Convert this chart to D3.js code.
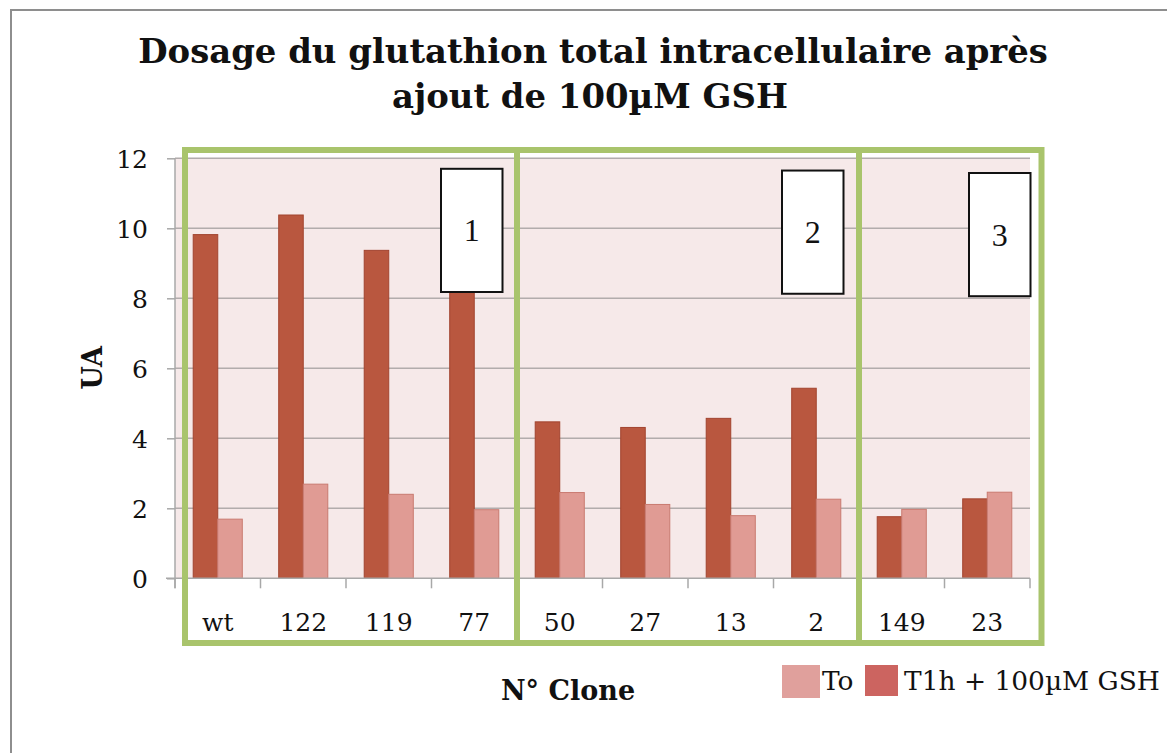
<!DOCTYPE html>
<html>
<head>
<meta charset="utf-8">
<script src="https://cdn.jsdelivr.net/npm/d3@7"></script>
<style>
  html, body { margin: 0; padding: 0; background: #ffffff; }
  svg { display: block; }
</style>
</head>
<body>
<svg id="chart" width="1167" height="753"></svg>
<script>
// Clone identifiers along the x axis
const clones = ["wt", "122", "119", "77", "50", "27", "13", "2", "149", "23"];

// Intracellular total glutathione (UA)
const t1hValues = [9.82, 10.38, 9.37, 8.6, 4.47, 4.31, 4.57, 5.43, 1.76, 2.27];
const t0Values  = [1.69, 2.69, 2.40, 1.96, 2.45, 2.11, 1.79, 2.26, 1.97, 2.46];

const seriesNames = ["T1h + 100µM GSH", "To"];
const legendOrder = ["To", "T1h + 100µM GSH"];

const yTicks = [0, 2, 4, 6, 8, 10, 12];

// Clone groups outlined in green, with their numbered tags
const groupFirst = ["wt", "50", "149"];
const groupLast  = ["77", "2", "23"];
const groupLabels = ["1", "2", "3"];
const tagClone = ["77", "2", "23"];
const tagTop = [11.7, 11.65, 11.58];
const tagBottom = [8.18, 8.13, 8.06];

const titleLines = ["Dosage du glutathion total intracellulaire après", "ajout de 100µM GSH"];
const xTitle = "N° Clone";
const yTitle = "UA";

const serif = "'DejaVu Serif', Georgia, serif";
const colors = {
  "T1h + 100µM GSH": { fill: "#b9573f", stroke: "#a2442f", legend: "#cc6460" },
  "To": { fill: "#e09b94", stroke: "#c97a70", legend: "#e0a09c" }
};

const svg = d3.select("#chart");

// Frame around the whole chart
svg.append("rect")
  .attr("x", 11).attr("y", 10).attr("width", 1300).attr("height", 900)
  .attr("fill", "none").attr("stroke", "#8e8e8e").attr("stroke-width", 2);

const plot = { left: 175, right: 1030, top: 158.3, bottom: 578.3 };

const x = d3.scaleBand().domain(clones).range([plot.left, plot.right]).padding(0);
const y = d3.scaleLinear().domain([0, 12]).range([plot.bottom, plot.top]);

const barW = x.bandwidth() * 0.287;
const xs = d3.scaleBand().domain(seriesNames)
  .range([0, 2 * barW]).padding(0);

// Plot background
svg.append("rect")
  .attr("x", plot.left).attr("y", plot.top)
  .attr("width", plot.right - plot.left).attr("height", plot.bottom - plot.top)
  .attr("fill", "#f6e9e9");

// Horizontal gridlines
svg.append("g").selectAll("line").data(yTicks.filter(d => d > 0)).join("line")
  .attr("x1", plot.left).attr("x2", plot.right)
  .attr("y1", d => y(d)).attr("y2", d => y(d))
  .attr("stroke", "#b2acac").attr("stroke-width", 1.5);

// Bars
const rows = clones.map((c, i) => ({ clone: c, values: [
  { series: seriesNames[0], value: t1hValues[i] },
  { series: seriesNames[1], value: t0Values[i] }
]}));

const barGroups = svg.append("g").selectAll("g").data(rows).join("g")
  .attr("transform", d => `translate(${x(d.clone) + (x.bandwidth() - 2 * barW) / 2},0)`);

barGroups.selectAll("rect").data(d => d.values).join("rect")
  .attr("x", d => xs(d.series))
  .attr("width", xs.bandwidth())
  .attr("y", d => y(d.value))
  .attr("height", d => y(0) - y(d.value))
  .attr("fill", d => colors[d.series].fill)
  .attr("stroke", d => colors[d.series].stroke)
  .attr("stroke-width", 1);

// Y axis
const yAxis = d3.axisLeft(y).tickValues(yTicks).tickSize(8).tickSizeOuter(0).tickPadding(20);
const gy = svg.append("g").attr("transform", `translate(${plot.left},0)`).call(yAxis);
gy.select(".domain").attr("stroke", "#a8a8a8").attr("stroke-width", 1.5)
  .attr("d", `M0,${plot.top}V${plot.bottom + 10}`);
gy.selectAll(".tick line").attr("stroke", "#a8a8a8").attr("stroke-width", 1.5);
gy.selectAll(".tick text")
  .attr("font-family", serif).attr("font-size", 25).attr("fill", "#111")
  .attr("x", -27).attr("dy", "0.36em");

// X axis: ticks between categories
const gx = svg.append("g").attr("transform", `translate(0,${plot.bottom})`);
gx.append("line")
  .attr("x1", plot.left - 9).attr("x2", plot.right)
  .attr("stroke", "#a8a8a8").attr("stroke-width", 1.5);
const boundaries = clones.map(c => x(c) + x.bandwidth()).concat([x(clones[0])]);
gx.selectAll("line.tk").data(boundaries).join("line").attr("class", "tk")
  .attr("x1", d => d).attr("x2", d => d).attr("y1", 0).attr("y2", 10)
  .attr("stroke", "#a8a8a8").attr("stroke-width", 1.5);
gx.selectAll("text").data(clones).join("text")
  .attr("x", d => x(d) + x.bandwidth() / 2)
  .attr("y", 53)
  .attr("text-anchor", "middle")
  .attr("font-family", serif).attr("font-size", 25).attr("fill", "#111")
  .text(d => d);

// Green outlines around clone groups
const gPad = 10;
svg.append("g").selectAll("rect").data(groupFirst.map((f, i) => ({ f, l: groupLast[i], i }))).join("rect")
  .attr("x", d => d.i === 0 ? x(d.f) + gPad : x(d.f))
  .attr("width", d => {
    const x0 = d.i === 0 ? x(d.f) + gPad : x(d.f);
    const x1 = d.i === groupFirst.length - 1 ? x(d.l) + x.bandwidth() + 11.5 : x(d.l) + x.bandwidth();
    return x1 - x0;
  })
  .attr("y", 150).attr("height", 493)
  .attr("fill", "none").attr("stroke", "#a9c46c").attr("stroke-width", 6);

// Numbered group tags
const tags = svg.append("g").selectAll("g").data(groupLabels.map((t, i) => ({ t, i }))).join("g");
const tagX0 = d => x(tagClone[d.i]) + (d.i === 0 ? 9.5 : d.i === 1 ? 8.5 : 24.5);
tags.append("rect")
  .attr("x", tagX0)
  .attr("width", 61.5)
  .attr("y", d => y(tagTop[d.i]))
  .attr("height", d => y(tagBottom[d.i]) - y(tagTop[d.i]))
  .attr("fill", "#ffffff").attr("stroke", "#111").attr("stroke-width", 2);
tags.append("text")
  .attr("x", d => tagX0(d) + 30.75)
  .attr("y", d => (y(tagTop[d.i]) + y(tagBottom[d.i])) / 2 + 11)
  .attr("text-anchor", "middle")
  .attr("font-family", "'Liberation Serif', 'Times New Roman', serif")
  .attr("font-size", 32).attr("fill", "#111")
  .text(d => d.t);

// Fit a text element's font size to a target width
function fit(sel, target) {
  const len = sel.node().getComputedTextLength();
  const fs = parseFloat(sel.attr("font-size"));
  sel.attr("font-size", fs * target / len);
  return sel;
}

// Title
const t1 = svg.append("text").attr("x", 593).attr("y", 63).attr("text-anchor", "middle")
  .attr("font-family", serif).attr("font-weight", "bold").attr("font-size", 34).attr("fill", "#111")
  .text(titleLines[0]);
fit(t1, 910);
const t2 = svg.append("text").attr("x", 590).attr("y", 108).attr("text-anchor", "middle")
  .attr("font-family", serif).attr("font-weight", "bold").attr("font-size", +t1.attr("font-size")).attr("fill", "#111")
  .text(titleLines[1]);

// Axis titles
svg.append("text").attr("x", 568).attr("y", 700).attr("text-anchor", "middle")
  .attr("font-family", serif).attr("font-weight", "bold").attr("font-size", 27).attr("fill", "#111")
  .text(xTitle);
svg.append("text").attr("transform", "translate(102,368) rotate(-90)").attr("text-anchor", "middle")
  .attr("font-family", serif).attr("font-weight", "bold").attr("font-size", 27).attr("fill", "#111")
  .text(yTitle);

// Legend
const legendX = [782, 865];
const legendSw = [38, 33];
const leg = svg.append("g").selectAll("g").data(legendOrder).join("g");
leg.append("rect")
  .attr("x", (d, i) => legendX[i]).attr("y", 665)
  .attr("width", (d, i) => legendSw[i]).attr("height", (d, i) => i === 0 ? 33 : 31)
  .attr("fill", d => colors[d].legend);
const legText = leg.append("text")
  .attr("x", (d, i) => legendX[i] + legendSw[i] + (i === 0 ? 2 : 6))
  .attr("y", 690)
  .attr("font-family", serif).attr("font-size", 28).attr("fill", "#111")
  .text(d => d);
fit(d3.select(legText.nodes()[1]), 256);
d3.select(legText.nodes()[0]).attr("font-size", d3.select(legText.nodes()[1]).attr("font-size"));
</script>
</body>
</html>
